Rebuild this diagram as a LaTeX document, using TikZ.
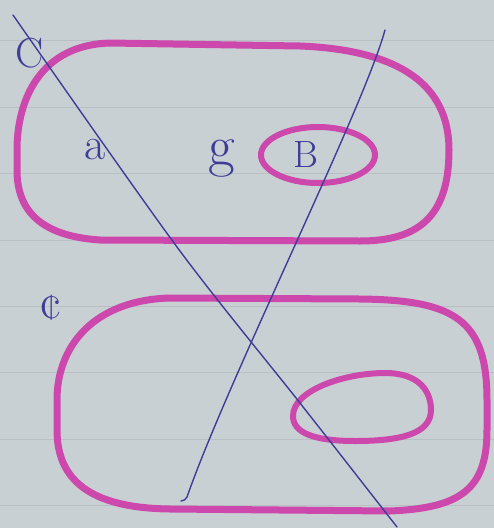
\documentclass[tikz,border=0pt]{standalone}
\usepackage{tikz}
\usetikzlibrary{positioning}
\definecolor{paper}{RGB}{201,208,211}
\definecolor{rule}{RGB}{185,191,195}
\definecolor{marker}{RGB}{204,72,172}
\definecolor{ink}{RGB}{62,62,150}

\begin{document}
\begin{tikzpicture}[
   x=1pt, y=-1pt,
   blob/.style={draw=marker, line width=7pt, line join=round},
   loopy/.style={draw=marker, line width=6pt},
   pen/.style={draw=ink, line width=1.4pt, line cap=round},
   lab/.style={text=ink, inner sep=0pt, font=\fontsize{42}{42}\selectfont}
]
\fill[paper] (0,0) rectangle (494,528);
\useasboundingbox (0,0) rectangle (494,528);
% ruled paper
\foreach \y in {40,107,173,240,306,372,439,505}
   \draw[rule, line width=0.8pt] (0,\y) -- (494,\y);

% the two sets
\draw[blob] (17,170) -- (17,150) .. controls (17,100) and (40,45) .. (110,43)
   -- (300,46) .. controls (400,50) and (449,85) .. (449,150)
   .. controls (449,215) and (420,241) .. (360,241)
   -- (100,240) .. controls (40,236) and (17,210) .. (17,170) -- cycle;
\draw[blob] (57,430) -- (57,400) .. controls (57,345) and (95,300) .. (170,298)
   -- (360,299) .. controls (455,300) and (487,320) .. (487,400)
   -- (487,430) .. controls (487,490) and (460,508) .. (390,511)
   -- (170,509) .. controls (90,508) and (57,480) .. (57,430) -- cycle;

% inner subsets
\draw[loopy] (318,155) ellipse [x radius=57pt, y radius=28pt];
\draw[loopy] (293,416) .. controls (293,390) and (345,373) .. (385,373)
   .. controls (420,373) and (431,392) .. (431,410)
   .. controls (431,434) and (400,441) .. (355,441)
   .. controls (312,441) and (293,432) .. (293,416) -- cycle;

% the two crossing lines
\draw[pen] plot[smooth, tension=0.5] coordinates
   {(13,15) (177,247) (300,403) (397,527)};
\draw[pen] (385,30) .. controls (363,110) and (229,377) .. (187,497)
   .. controls (185,500) .. (181,501);

% labels
\node[lab] (labC) at (30,53) {C};
\node[lab, font=\fontsize{46}{46}\selectfont] (labA) at (95,150) {a};
\node[lab, font=\fontsize{58}{58}\selectfont] (labG) at (222,158) {g};
\node[lab, font=\fontsize{38}{38}\selectfont] (labB) at (306,155) {B};
\node[lab, font=\fontsize{50}{50}\selectfont] (labNC) at (51,308) {¢};
\end{tikzpicture}
\end{document}
